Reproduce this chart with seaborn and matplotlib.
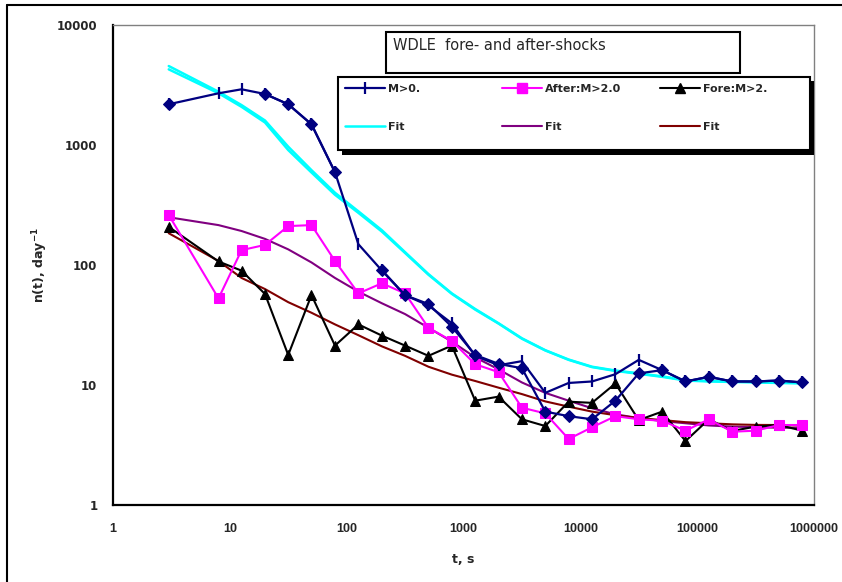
import numpy as np
import pandas as pd
import matplotlib
matplotlib.use("Agg")
import matplotlib.pyplot as plt
import seaborn as sns
from matplotlib.lines import Line2D
from matplotlib.patches import Rectangle
from matplotlib.ticker import NullLocator
from matplotlib import font_manager

nan = np.nan

# ---------------- data ----------------
t_s = [3, 8, 12.6, 20, 31.6, 50, 79.4, 126, 200, 316, 501, 794, 1259, 1995,
       3162, 5012, 7943, 12589, 19953, 31623, 50119, 79433, 125893, 199526,
       316228, 501187, 794328]

m0_plus = [2185, 2697, 2912, 2661, 2185, 1487, 594, 149, 90, 56, 46, 32.7, 17.5,
           14.6, 15.8, 8.6, 10.4, 10.7, 12.3, 16.2, 13.3, 10.7, 11.7, 10.7, 10.7,
           10.9, 10.5]
m0_diam = [2185, nan, nan, 2661, 2185, 1487, 594, nan, 90.8, 56, 47.3, 30.6, 17.8,
           15.0, 13.8, 6.0, 5.5, 5.18, 7.4, 12.5, 13.3, 10.7, 11.7, 10.7, 10.7,
           10.9, 10.5]
after_m2 = [261, 52.7, 133, 147, 211, 215, 108, 58, 70.4, 58, 30, 23.3, 14.9, 12.8,
            6.47, 5.8, 3.55, 4.44, 5.5, 5.18, 5.04, 4.16, 5.18, 4.08, 4.16, 4.64, 4.64]
fore_m2 = [208, 107, 89.7, 57.3, 17.8, 56.2, 21.3, 32, 25.8, 21.3, 17.5, 21.3, 7.4,
           8.0, 5.18, 4.55, 7.26, 7.1, 10.3, 5.1, 6.0, 3.41, 5.18, 4.14, 4.5, 4.64, 4.16]

fit_m0a = [4550, 2780, 2150, 1600, 968, 617, 400, 280, 195, 128, 84, 58, 43, 32.7,
           24.5, 19.5, 16.3, 14.2, 13.2, 12.5, 11.8, 11.0, 10.8, 10.7, 10.6, 10.5, 10.4]
fit_m0b = [4270, 2700, 2080, 1540, 908, 590, 385, 272, 190, 126, 83, 57.5, 42.5, 32.5,
           24.3, 19.4, 16.2, 14.1, 13.1, 12.4, 11.7, 10.9, 10.7, 10.6, 10.5, 10.4, 10.3]
fit_after = [250, 215, 192, 165, 135, 105, 78, 60, 48, 39, 30, 23, 17, 13.5, 10.5,
             8.6, 7.4, 6.4, 5.7, 5.3, 5.0, 4.8, 4.6, 4.5, 4.45, 4.4, 4.4]
fit_fore = [184, 108, 78, 63, 49, 40, 32, 26, 21, 17.5, 14.2, 12.2, 10.8, 9.5, 8.4,
            7.3, 6.6, 6.0, 5.6, 5.3, 5.1, 4.9, 4.8, 4.7, 4.65, 4.64, 4.6]

x_ticks = [1, 10, 100, 1000, 10000, 100000, 1000000]
x_ticklabels = ["1", "10", "100", "1000", "10000", "100000", "1000000"]
y_ticks = [1, 10, 100, 1000, 10000]
y_ticklabels = ["1", "10", "100", "1000", "10000"]

title_text = "WDLE  fore- and after-shocks"
legend_cols = [["M>0.", "Fit"], ["After:M>2.0", "Fit"], ["Fore:M>2.", "Fit"]]

# ---------------- style ----------------
sns.set_style("white")
plt.rcParams["font.family"] = ["DejaVu Sans"]
plt.rcParams["mathtext.default"] = "bf"

names = {f.name for f in font_manager.fontManager.ttflist}
narrow = "Liberation Sans Narrow" if "Liberation Sans Narrow" in names else "Liberation Sans"

NAVY = "#000080"
MAG = "#FF00FF"
CYAN = "#00FFFF"
PURP = "#800080"
BROWN = "#800000"

W, H = 842, 582
fig = plt.figure(figsize=(W / 100, H / 100), dpi=100)
ax = fig.add_axes([113 / W, 1 - 505 / H, (814 - 113) / W, (505 - 25) / H])
ax.set_xscale("log")
ax.set_yscale("log")


def draw(vals, color, marker=None, ms=0, lw=1.5, z=2, mew=0.75):
    df = pd.DataFrame({"t": t_s, "v": vals})
    df["seg"] = df["v"].isna().cumsum()
    df = df.dropna()
    kw = {}
    if marker:
        kw = dict(marker=marker, markersize=ms, markeredgecolor=color,
                  markerfacecolor=color, markeredgewidth=mew)
    sns.lineplot(data=df, x="t", y="v", units="seg", estimator=None, sort=False,
                 color=color, linewidth=lw, ax=ax, zorder=z, legend=False, **kw)


# fits
draw(fit_m0a, CYAN, lw=1.8, z=2)
draw(fit_m0b, CYAN, lw=1.8, z=2)
draw(fit_after, PURP, lw=1.5, z=2)
draw(fit_fore, BROWN, lw=1.5, z=2)
# data
draw(fore_m2, "black", "^", 7, lw=1.5, z=3)
draw(after_m2, MAG, "s", 6.5, lw=1.5, z=3)
draw(m0_diam, NAVY, "D", 6.5, lw=1.6, z=4)
draw(m0_plus, NAVY, "|", 8, lw=1.6, z=5, mew=1.6)

ax.set_xlim(1, 1e6)
ax.set_ylim(1, 1e4)
ax.set_xticks(x_ticks)
ax.set_xticklabels(x_ticklabels, fontfamily=narrow, fontweight="bold", fontsize=9)
ax.set_yticks(y_ticks)
ax.set_yticklabels(y_ticklabels, fontfamily="DejaVu Sans", fontweight="bold", fontsize=8.5)
ax.xaxis.set_minor_locator(NullLocator())
ax.yaxis.set_minor_locator(NullLocator())
ax.tick_params(axis="both", direction="inout", length=8.5, width=1.2, color="black")
ax.tick_params(axis="x", pad=9)
ax.tick_params(axis="y", pad=7)

for s in ["left", "bottom"]:
    ax.spines[s].set_color("black")
    ax.spines[s].set_linewidth(1.6)
for s in ["top", "right"]:
    ax.spines[s].set_color("#808080")
    ax.spines[s].set_linewidth(1.0)
ax.grid(False)

ax.set_xlabel("t, s", fontweight="bold", fontsize=9, labelpad=13)
ax.set_ylabel("n(t), day$^{-1}$", fontweight="bold", fontsize=9)
ax.yaxis.set_label_coords((50 - 113) / (814 - 113), 0.5)

# title box
fig.add_artist(Rectangle((386 / W, 1 - 73 / H), (740 - 386) / W, (73 - 32) / H,
                         transform=fig.transFigure, facecolor="white",
                         edgecolor="black", linewidth=1.5, zorder=10))
fig.text(393 / W, 1 - 46 / H, title_text, fontsize=10.5, va="center", ha="left",
         fontfamily="DejaVu Sans", zorder=11)

# legend frame with black shadow
fig.add_artist(Rectangle((342 / W, 1 - 155 / H), (814 - 342) / W, (155 - 81) / H,
                         transform=fig.transFigure, facecolor="black",
                         edgecolor="black", linewidth=0, zorder=10))
fig.add_artist(Rectangle((338 / W, 1 - 150 / H), (810 - 338) / W, (150 - 77) / H,
                         transform=fig.transFigure, facecolor="white",
                         edgecolor="black", linewidth=1.5, zorder=11))

col_handles = [
    [Line2D([], [], color=NAVY, lw=1.6, marker="|", ms=8, mew=1.6, mec=NAVY),
     Line2D([], [], color=CYAN, lw=1.8)],
    [Line2D([], [], color=MAG, lw=1.5, marker="s", ms=6.5, mec=MAG, mfc=MAG),
     Line2D([], [], color=PURP, lw=1.5)],
    [Line2D([], [], color="black", lw=1.5, marker="^", ms=7, mec="black", mfc="black"),
     Line2D([], [], color=BROWN, lw=1.5)],
]
col_x = [345, 502, 660]
for hx, hs, ls in zip(col_x, col_handles, legend_cols):
    lg = fig.legend(hs, ls, loc="upper left",
                    bbox_to_anchor=(hx / W, 1 - 84 / H), frameon=False,
                    prop={"family": "DejaVu Sans", "weight": "bold", "size": 8},
                    handlelength=3.6, labelspacing=2.55, borderpad=0,
                    handletextpad=0.3, borderaxespad=0)
    lg.set_zorder(12)

# outer frame (left and top only visible)
fig.add_artist(Line2D([7 / W, 7 / W], [0, 1 - 5 / H], color="black", lw=1.5,
                      transform=fig.transFigure))
fig.add_artist(Line2D([7 / W, 1], [1 - 5 / H, 1 - 5 / H], color="black", lw=1.5,
                      transform=fig.transFigure))

fig.savefig("out.png", dpi=100)
